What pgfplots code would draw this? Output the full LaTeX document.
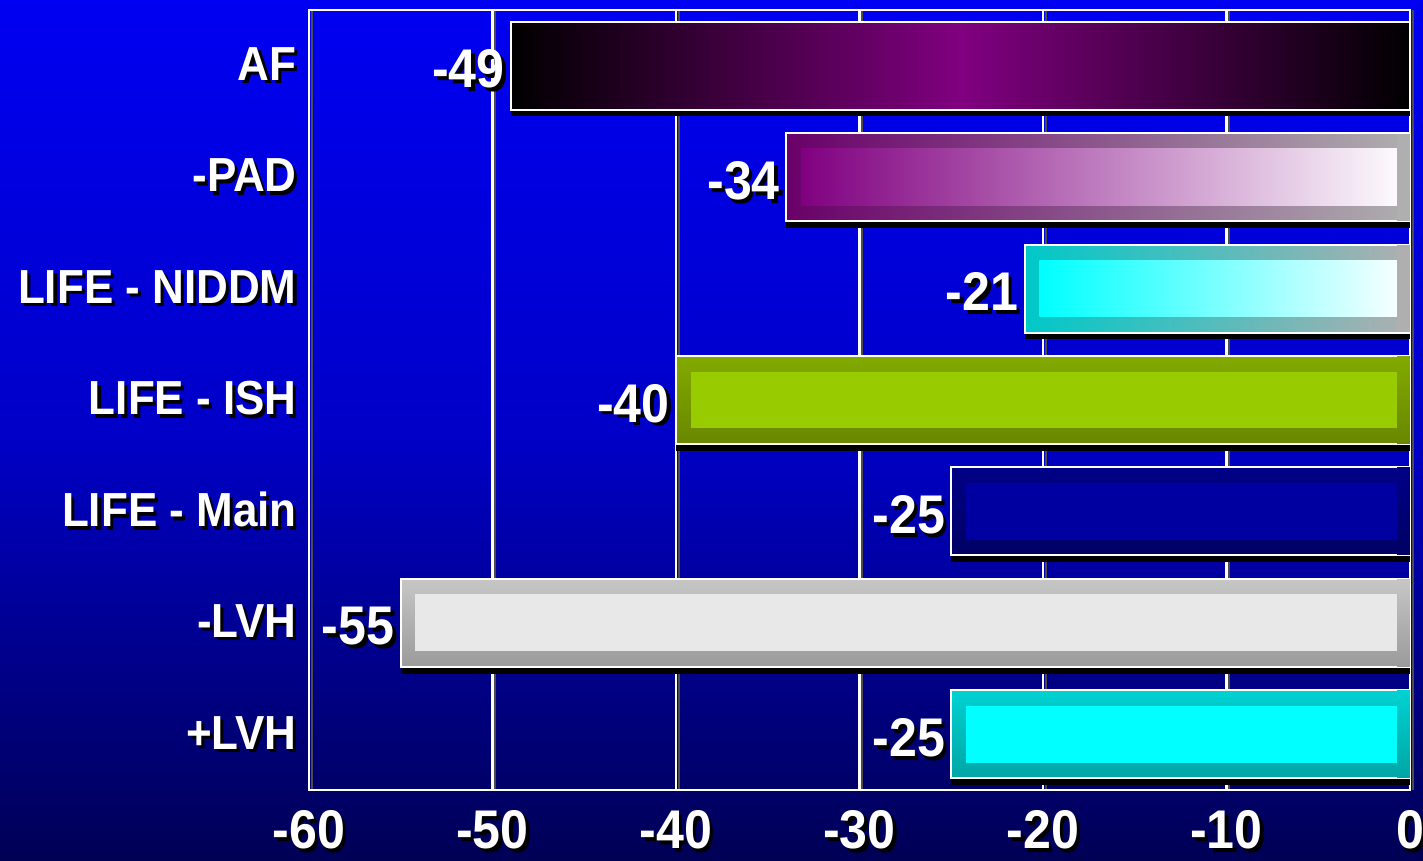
\documentclass[border=0pt]{standalone}
\usepackage{pgfplots}
\pgfplotsset{compat=1.18}
\usepackage{fontspec}
\setmainfont{Liberation Sans}
\usepackage{graphicx}
\definecolor{bgtop}{RGB}{0,0,242}
\definecolor{bgmid}{RGB}{0,0,200}
\definecolor{bgbot}{RGB}{0,0,85}
\definecolor{purp}{RGB}{128,0,128}
\definecolor{purpd}{RGB}{105,0,105}
\definecolor{grayb}{RGB}{175,175,175}
\definecolor{cyanf}{RGB}{0,255,255}
\definecolor{cyand}{RGB}{0,200,200}
\definecolor{cyant}{RGB}{0,210,210}
\definecolor{cyanbt}{RGB}{0,165,165}
\definecolor{limef}{RGB}{153,204,0}
\definecolor{limet}{RGB}{130,170,0}
\definecolor{limebt}{RGB}{105,135,0}
\definecolor{navyf}{RGB}{0,0,160}
\definecolor{navyt}{RGB}{0,0,135}
\definecolor{navybt}{RGB}{0,0,100}
\definecolor{lgf}{RGB}{232,232,232}
\definecolor{lgt}{RGB}{198,198,198}
\definecolor{lgbt}{RGB}{155,155,155}
\newcommand\sh[1]{\scalebox{0.92}[1]{\rlap{\kern0.07em\raisebox{-0.07em}{\color{black}#1}}{\color{white}#1}}}
\pgfplotsset{
  shadowbar/.style={xbar, bar shift=-0.06, bar width=0.79, fill=black, draw=none, forget plot},
  outer/.style={xbar, bar shift=0pt, bar width=0.79, draw=white, line width=0.6pt, forget plot},
  inner/.style={xbar, bar shift=0pt, bar width=0.51, draw=none, forget plot},
  strip/.style={xbar, bar shift=0pt, bar width=0.78, draw=none, forget plot},
  lab/.style={point meta=explicit symbolic,
    nodes near coords={\sh{\pgfplotspointmeta}},
    nodes near coords align={anchor=east},
    every node near coord/.append style={font=\fontsize{15.5}{16}\selectfont\bfseries, inner sep=1.5pt, yshift=-1.5pt}},
}
\begin{document}
\begin{tikzpicture}
\shade[top color=bgtop, bottom color=bgbot, middle color=bgmid] (0,0) rectangle (142.3mm,86.1mm);
\begin{axis}[
  at={(30.9mm,7.1mm)}, anchor=south west,
  scale only axis, width=110.1mm, height=78mm,
  xmin=-60, xmax=0, ymin=-0.5, ymax=6.5,
  xtick={-60,-50,-40,-30,-20,-10,0},
  xticklabels={\sh{-60},\sh{-50},\sh{-40},\sh{-30},\sh{-20},\sh{-10},\sh{0}},
  ytick={0,1,2,3,4,5,6},
  yticklabels={\sh{+LVH},\sh{-LVH},\sh{LIFE - Main},\sh{LIFE - ISH},\sh{LIFE - NIDDM},\sh{-PAD},\sh{AF}},
  xmajorgrids,
  major grid style={white, line width=0.7pt, preaction={draw=black!70, line width=0.6pt, transform canvas={xshift=0.75pt}}},
  axis line style={white, line width=0.8pt},
  tick style={draw=none},
  xticklabel style={font=\fontsize{15.5}{16}\selectfont\bfseries, yshift=-2.3pt},
  yticklabel style={font=\fontsize{13.6}{15}\selectfont\bfseries},
]
% AF
\addplot[shadowbar] coordinates {(-49,6)};
\addplot[outer, lab, left color=black, right color=black, middle color=purp] coordinates {(-49,6) [-49]};
% -PAD
\addplot[shadowbar] coordinates {(-34,5)};
\addplot[outer, lab, left color=purpd, right color=grayb] coordinates {(-34,5) [-34]};
\addplot[inner, left color=purp, right color=white] coordinates {(-33.2,5)};
\addplot[strip, fill=grayb] coordinates {(-0.7,5)};
% LIFE - NIDDM
\addplot[shadowbar] coordinates {(-21,4)};
\addplot[outer, lab, left color=cyand, right color=grayb] coordinates {(-21,4) [-21]};
\addplot[inner, left color=cyanf, right color=white] coordinates {(-20.2,4)};
\addplot[strip, fill=grayb] coordinates {(-0.7,4)};
% LIFE - ISH
\addplot[shadowbar] coordinates {(-40,3)};
\addplot[outer, lab, top color=limet, bottom color=limebt] coordinates {(-40,3) [-40]};
\addplot[inner, fill=limef] coordinates {(-39.2,3)};
\addplot[strip, top color=limet, bottom color=limebt] coordinates {(-0.7,3)};
% LIFE - Main
\addplot[shadowbar] coordinates {(-25,2)};
\addplot[outer, lab, top color=navyt, bottom color=navybt] coordinates {(-25,2) [-25]};
\addplot[inner, fill=navyf] coordinates {(-24.2,2)};
\addplot[strip, top color=navyt, bottom color=navybt] coordinates {(-0.7,2)};
% -LVH
\addplot[shadowbar] coordinates {(-55,1)};
\addplot[outer, lab, top color=lgt, bottom color=lgbt] coordinates {(-55,1) [-55]};
\addplot[inner, fill=lgf] coordinates {(-54.2,1)};
\addplot[strip, top color=lgt, bottom color=lgbt] coordinates {(-0.7,1)};
% +LVH
\addplot[shadowbar] coordinates {(-25,0)};
\addplot[outer, lab, top color=cyant, bottom color=cyanbt] coordinates {(-25,0) [-25]};
\addplot[inner, fill=cyanf] coordinates {(-24.2,0)};
\addplot[strip, top color=cyant, bottom color=cyanbt] coordinates {(-0.7,0)};
\end{axis}
\pgfresetboundingbox
\path (0,0) rectangle (142.3mm,86.1mm);
\end{tikzpicture}
\end{document}
